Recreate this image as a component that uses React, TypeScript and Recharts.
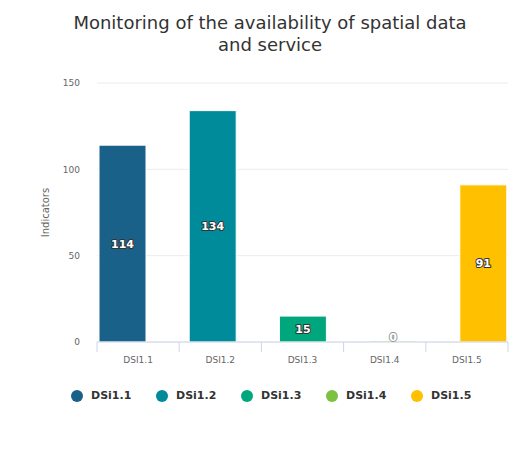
import React from 'react'
import { Bar, BarChart, CartesianGrid, LabelList, XAxis, YAxis } from 'recharts'

const categories = ['DSI1.1', 'DSI1.2', 'DSI1.3', 'DSI1.4', 'DSI1.5']
const seriesNames = ['DSi1.1', 'DSi1.2', 'DSi1.3', 'DSi1.4', 'DSi1.5']
const values = [114, 134, 15, 0, 91]
const colors = ['#1a618a', '#008b9b', '#00a77d', '#7cc142', '#ffc000']
const yTicks = [0, 50, 100, 150]

const font = '"DejaVu Sans", Verdana, sans-serif'

// one row per category, each series only has a value in its own category
const data = categories.map((c, i) => {
  const row: any = { name: c }
  row['s' + i] = values[i]
  return row
})

const BarLabel = (props: any) => {
  const { x, y, width, height, value } = props
  if (value === undefined || value === null) return null
  const cx = Number(x) + Number(width) / 2
  const cy = Number(y) + Number(height) / 2 - (value === 0 ? 5 : 0)
  return (
    <text x={cx} y={cy} dy={4} textAnchor="middle" fontSize={11} fontWeight="bold" fontFamily={font}
      fill="#fff" stroke={value === 0 ? '#999' : '#333'} strokeWidth={2} strokeLinejoin="round"
      style={{ paintOrder: 'stroke' }}>
      {value}
    </text>
  )
}

const XTick = (props: any) => {
  const { x, y, payload, index } = props
  const half = payload && payload.offset ? payload.offset : 41
  return (
    <g>
      <line x1={x - half} y1={y - 8} x2={x - half} y2={y + 2} stroke="#ccd6eb" />
      {index === categories.length - 1 && (
        <line x1={x + half} y1={y - 8} x2={x + half} y2={y + 2} stroke="#ccd6eb" />
      )}
      <text x={x} y={y + 13} textAnchor="middle" fontSize={9} fill="#666" fontFamily={font}>
        {payload.value}
      </text>
    </g>
  )
}

const ChartLegend = () => (
  <div style={{ position: 'absolute', top: 389, left: 71, display: 'flex', fontFamily: font }}>
    {seriesNames.map((n, i) => (
      <div key={n} style={{ width: 85, display: 'flex', alignItems: 'center' }}>
        <span style={{ width: 12, height: 12, borderRadius: 6, background: colors[i], display: 'inline-block', marginRight: 8 }} />
        <span style={{ fontSize: 11, fontWeight: 'bold', color: '#333' }}>{n}</span>
      </div>
    ))}
  </div>
)

export default function App() {
  return (
    <div style={{ position: 'absolute', left: 0, top: 0, width: 514, height: 456, background: '#fff' }}>
      <div style={{ position: 'absolute', left: 0, top: 12, width: 540, textAlign: 'center', fontFamily: font, fontSize: 18, lineHeight: '22px', color: '#333' }}>
        Monitoring of the availability of spatial data
        <br />
        and service
      </div>
      <BarChart width={514} height={456} data={data}
        margin={{ top: 83, right: 6, bottom: 84, left: 37 }}
        barCategoryGap={0} barGap={-39} barSize={47}>
        <CartesianGrid vertical={false} stroke="#ececec" />
        <XAxis dataKey="name" axisLine={{ stroke: '#ccd6eb' }} tickLine={false} tick={<XTick />} interval={0} height={30} />
        <YAxis domain={[0, 150]} ticks={yTicks} width={60} axisLine={false} tickLine={false} tickSize={0} tickMargin={17}
          tick={{ fontSize: 9, fill: '#666', fontFamily: font }}
          label={{ value: 'Indicators', angle: -90, position: 'insideLeft', offset: 8, style: { textAnchor: 'middle', fontSize: 10, fill: '#666', fontFamily: font } }} />
        {seriesNames.map((n, i) => (
          <Bar key={n} dataKey={'s' + i} name={n} fill={colors[i]} stroke="#fff" strokeWidth={1}
            minPointSize={values[i] === 0 ? 1 : 0} isAnimationActive={false}>
            <LabelList dataKey={'s' + i} content={<BarLabel />} />
          </Bar>
        ))}
      </BarChart>
      <ChartLegend />
    </div>
  )
}
